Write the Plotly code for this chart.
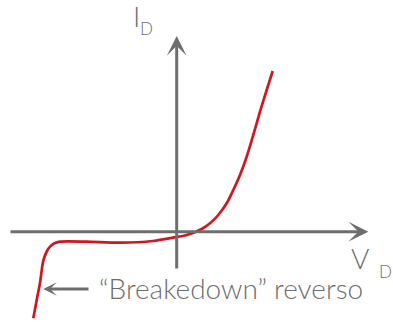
import plotly.graph_objects as go

# diode I-V sketch, origin at axis crossing
v_d = [-143.4, -140.0, -136.7, -133.4, -129.7, -126.7, -122.7, -116.7, -90.0,
       -56.7, -23.7, -3.7, 10.0, 25.0, 33.3, 41.6, 50.0, 56.6, 63.3, 70.0,
       76.6, 83.3, 90.0, 96.0]
i_d = [-86.6, -68.3, -51.3, -29.0, -19.3, -15.0, -11.8, -10.0, -10.0,
       -11.0, -9.3, -6.0, -3.3, 2.7, 8.4, 16.7, 28.4, 41.7, 56.7, 75.0,
       96.7, 120.0, 141.7, 160.7]

note = '\u201cBreakedown\u201d reverso'

GREY = '#6e6e6e'
RED = '#d0161e'
FONT = 'Lato'

fig = go.Figure()
fig.add_trace(go.Scatter(x=v_d, y=i_d, mode='lines',
                         line=dict(color=RED, width=2.7, shape='spline', smoothing=0.8),
                         hoverinfo='skip'))

def arrow(x0, y0, x1, y1, width=3, size=1.1):
    fig.add_annotation(x=x1, y=y1, ax=x0, ay=y0, xref='x', yref='y',
                       axref='x', ayref='y', text='', showarrow=True,
                       arrowhead=3, arrowsize=size, arrowwidth=width,
                       arrowcolor=GREY, standoff=0, startstandoff=0)

def label(x, y, text, size):
    fig.add_annotation(x=x, y=y, xref='x', yref='y', text=text, showarrow=False,
                       xanchor='center', yanchor='middle',
                       font=dict(family=FONT, size=size, color=GREY, weight=300))

# axes with arrows
arrow(-167.7, 0, 191.6, 0)
arrow(0, -38.3, 0, 195.7)
# breakdown pointer
arrow(-86.7, -57.3, -133.4, -57.3, width=3, size=0.75)

fig.add_annotation(x=-80, y=-56.5, xref='x', yref='y', text=note, showarrow=False,
                   xanchor='left', yanchor='middle',
                   font=dict(family=FONT, size=28, color=GREY, weight=300))

# axis names: V_D and I_D
label(182.8, -26.3, 'V', 28)
label(208.3, -39.3, 'D', 17)
label(-40.2, 216.2, 'I', 28)
label(-30.2, 203.2, 'D', 17)

fig.update_xaxes(range=[-176.7, 216.3], visible=False)
fig.update_yaxes(range=[-90.3, 231.7], visible=False)
fig.update_layout(width=393, height=322, margin=dict(l=0, r=0, t=0, b=0),
                  plot_bgcolor='white', paper_bgcolor='white', showlegend=False)

fig.write_html('out.html', config={'displayModeBar': False},
               post_script="document.body.style.margin='0';")
